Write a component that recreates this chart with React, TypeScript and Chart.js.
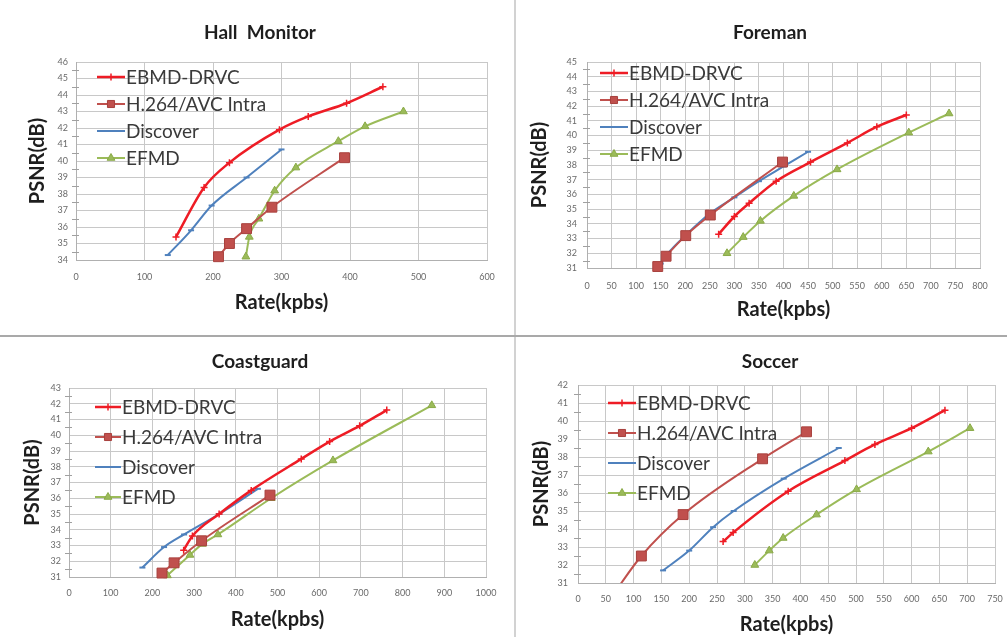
import React, { useEffect, useRef } from 'react';
import { Chart, registerables } from 'chart.js';

Chart.register(...registerables);

// ---------------- data ----------------
const SERIES_NAMES = ['EBMD-DRVC', 'H.264/AVC Intra', 'Discover', 'EFMD'];

// Hall Monitor
const hallRateEBMD = [146, 187, 224, 297, 339, 395, 448];
const hallPsnrEBMD = [35.4, 38.4, 39.9, 41.9, 42.7, 43.5, 44.5];
const hallRateH264 = [208, 224, 249, 286, 392];
const hallPsnrH264 = [34.2, 35.0, 35.9, 37.2, 40.2];
const hallRateDiscover = [134, 168, 198, 249, 300];
const hallPsnrDiscover = [34.3, 35.8, 37.3, 39.0, 40.7];
const hallRateEFMD = [248, 253, 267, 290, 321, 383, 422, 478];
const hallPsnrEFMD = [34.2, 35.4, 36.5, 38.2, 39.6, 41.2, 42.1, 43.0];

// Foreman
const foreRateEBMD = [268, 300, 330, 385, 455, 530, 590, 650];
const forePsnrEBMD = [33.3, 34.5, 35.4, 36.9, 38.2, 39.5, 40.6, 41.4];
const foreRateH264 = [144, 161, 201, 251, 398];
const forePsnrH264 = [31.1, 31.8, 33.2, 34.6, 38.2];
const foreRateDiscover = [150, 165, 200, 250, 300, 350, 400, 450];
const forePsnrDiscover = [31.3, 32.0, 33.2, 34.7, 35.8, 36.9, 37.9, 38.9];
const foreRateEFMD = [285, 318, 353, 421, 509, 655, 737];
const forePsnrEFMD = [32.0, 33.1, 34.2, 35.9, 37.7, 40.2, 41.5];

// Coastguard
const coastRateEBMD = [275, 296, 360, 437, 557, 625, 697, 762];
const coastPsnrEBMD = [32.7, 33.6, 35.0, 36.5, 38.5, 39.6, 40.6, 41.6];
const coastRateH264 = [223, 252, 318, 482];
const coastPsnrH264 = [31.25, 31.9, 33.3, 36.2];
const coastRateDiscover = [176, 228, 276, 360, 453];
const coastPsnrDiscover = [31.6, 32.9, 33.7, 35.0, 36.6];
const coastRateEFMD = [236, 290, 320, 357, 485, 633, 870];
const coastPsnrEFMD = [31.1, 32.4, 33.1, 33.7, 36.0, 38.4, 41.9];

// Soccer
const socRateEBMD = [261, 279, 378, 480, 534, 600, 660];
const socPsnrEBMD = [33.3, 33.8, 36.1, 37.8, 38.7, 39.6, 40.6];
const socRateH264 = [64, 114, 189, 332, 411];
const socPsnrH264 = [30.4, 32.5, 34.8, 37.9, 39.4];
const socRateDiscover = [153, 200, 243, 280, 370, 469];
const socPsnrDiscover = [31.7, 32.8, 34.1, 35.0, 36.8, 38.5];
const socRateEFMD = [318, 344, 369, 429, 501, 630, 705];
const socPsnrEFMD = [32.0, 32.8, 33.5, 34.8, 36.2, 38.3, 39.6];

// ---------------- styles ----------------
const SERIES_STYLE = [
  { color: '#ee1c25', point: 'cross', radius: 3.5, width: 2.5, fill: '#ee1c25', border: '#ee1c25', pbw: 1.5 },
  { color: '#c0504d', point: 'rect', radius: 7, width: 2, fill: '#c0504d', border: '#a8403d', pbw: 1 },
  { color: '#4f81bd', point: 'line', radius: 3, width: 2, fill: '#4f81bd', border: '#4f81bd', pbw: 2 },
  { color: '#9bbb59', point: 'triangle', radius: 4.5, width: 2, fill: '#9bbb59', border: '#8aaa48', pbw: 1 },
];

const FONT = 'Lato';

type Spec = {
  title: string;
  left: number; top: number; width: number; height: number;
  xMin: number; xMax: number; xStep: number; yMin: number; yMax: number;
  rates: number[][]; psnrs: number[][];
  yAxisW: number; xAxisH: number; padRight: number;
  titlePad: [number, number];
  xTickPad: number; yTickPad: number; xTitlePad: number; yTitlePad: number;
  leg: { dx: number; dy: number; gap: number; len: number };
};

const SPECS: Spec[] = [
  {
    title: 'Hall  Monitor', left: 0, top: 0, width: 520, height: 336,
    xMin: 0, xMax: 600, xStep: 100, yMin: 34, yMax: 46,
    rates: [hallRateEBMD, hallRateH264, hallRateDiscover, hallRateEFMD],
    psnrs: [hallPsnrEBMD, hallPsnrH264, hallPsnrDiscover, hallPsnrEFMD],
    yAxisW: 76, xAxisH: 76, padRight: 33, titlePad: [21.6, 17.6],
    xTickPad: 11.6, yTickPad: 8, xTitlePad: 21, yTitlePad: 26,
    leg: { dx: 21, dy: 15, gap: 27, len: 28 },
  },
  {
    title: 'Foreman', left: 525, top: 0, width: 490, height: 336,
    xMin: 0, xMax: 800, xStep: 50, yMin: 31, yMax: 45,
    rates: [foreRateEBMD, foreRateH264, foreRateDiscover, foreRateEFMD],
    psnrs: [forePsnrEBMD, forePsnrH264, forePsnrDiscover, forePsnrEFMD],
    yAxisW: 62, xAxisH: 68, padRight: 35, titlePad: [21.6, 17.6],
    xTickPad: 12.6, yTickPad: 10, xTitlePad: 14, yTitlePad: 3,
    leg: { dx: 13, dy: 11, gap: 27, len: 28 },
  },
  {
    title: 'Coastguard', left: 0, top: 336, width: 520, height: 301,
    xMin: 0, xMax: 1000, xStep: 100, yMin: 31, yMax: 43,
    rates: [coastRateEBMD, coastRateH264, coastRateDiscover, coastRateEFMD],
    psnrs: [coastPsnrEBMD, coastPsnrH264, coastPsnrDiscover, coastPsnrEFMD],
    yAxisW: 69, xAxisH: 60, padRight: 34, titlePad: [14.6, 14.6],
    xTickPad: 10.6, yTickPad: 8, xTitlePad: 5, yTitlePad: 21,
    leg: { dx: 26, dy: 19, gap: 30, len: 26 },
  },
  {
    title: 'Soccer', left: 525, top: 336, width: 490, height: 301,
    xMin: 0, xMax: 750, xStep: 50, yMin: 31, yMax: 42,
    rates: [socRateEBMD, socRateH264, socRateDiscover, socRateEFMD],
    psnrs: [socPsnrEBMD, socPsnrH264, socPsnrDiscover, socPsnrEFMD],
    yAxisW: 53, xAxisH: 54, padRight: 20, titlePad: [14.6, 11.6],
    xTickPad: 10.6, yTickPad: 10, xTitlePad: 0, yTitlePad: 5,
    leg: { dx: 30, dy: 18, gap: 30, len: 28 },
  },
];

// ---------------- plugins ----------------
function drawMarker(ctx: CanvasRenderingContext2D, style: string, x: number, y: number, r: number, fill: string, border: string, bw: number) {
  ctx.save();
  ctx.fillStyle = fill;
  ctx.strokeStyle = border;
  ctx.lineWidth = bw;
  ctx.beginPath();
  if (style === 'rect') {
    const s = Math.SQRT1_2 * r;
    ctx.rect(x - s, y - s, 2 * s, 2 * s);
    ctx.fill();
    ctx.stroke();
  } else if (style === 'triangle') {
    ctx.moveTo(x, y - r);
    ctx.lineTo(x + r * Math.sin(2 * Math.PI / 3), y - r * Math.cos(2 * Math.PI / 3));
    ctx.lineTo(x + r * Math.sin(4 * Math.PI / 3), y - r * Math.cos(4 * Math.PI / 3));
    ctx.closePath();
    ctx.fill();
    ctx.stroke();
  } else if (style === 'cross') {
    ctx.moveTo(x, y - r); ctx.lineTo(x, y + r);
    ctx.moveTo(x - r, y); ctx.lineTo(x + r, y);
    ctx.stroke();
  } else {
    ctx.moveTo(x - r, y); ctx.lineTo(x + r, y);
    ctx.stroke();
  }
  ctx.restore();
}

const insideLegend = {
  id: 'insideLegend',
  afterDatasetsDraw(chart: any, _args: any, opts: any) {
    const { ctx, chartArea } = chart;
    ctx.save();
    ctx.font = `19px ${FONT}`;
    ctx.textBaseline = 'middle';
    ctx.textAlign = 'left';
    chart.data.datasets.forEach((d: any, i: number) => {
      const st = SERIES_STYLE[i];
      const y = chartArea.top + opts.dy + i * opts.gap;
      const x0 = chartArea.left + opts.dx;
      const x1 = x0 + opts.len;
      ctx.strokeStyle = st.color;
      ctx.lineWidth = st.width;
      ctx.beginPath();
      ctx.moveTo(x0, y);
      ctx.lineTo(x1, y);
      ctx.stroke();
      drawMarker(ctx, st.point, (x0 + x1) / 2, y, Math.min(st.radius, 5), st.fill, st.border, st.pbw);
      ctx.fillStyle = '#3a3a3a';
      ctx.fillText(d.label, x1 + 1, y + 1);
    });
    ctx.restore();
  },
};

const minorTicks = {
  id: 'minorTicks',
  afterDraw(chart: any) {
    const { ctx, chartArea, scales } = chart;
    const y = scales.y;
    ctx.save();
    ctx.strokeStyle = '#a0a0a0';
    ctx.lineWidth = 1;
    ctx.beginPath();
    for (let v = y.min + 0.5; v < y.max; v += 1) {
      const py = Math.round(y.getPixelForValue(v)) + 0.5;
      ctx.moveTo(chartArea.left - 4, py);
      ctx.lineTo(chartArea.left + 3, py);
    }
    ctx.stroke();
    ctx.restore();
  },
};

function buildConfig(s: Spec): any {
  const datasets = SERIES_NAMES.map((name, i) => {
    const st = SERIES_STYLE[i];
    return {
      label: name,
      data: s.rates[i].map((x, j) => ({ x, y: s.psnrs[i][j] })),
      borderColor: st.color,
      backgroundColor: st.color,
      borderWidth: st.width,
      pointStyle: st.point,
      pointRadius: st.radius,
      pointBackgroundColor: st.fill,
      pointBorderColor: st.border,
      pointBorderWidth: st.pbw,
      cubicInterpolationMode: 'monotone',
      fill: false,
      clip: s.rates[i][0] < s.xMin || s.psnrs[i][0] < s.yMin ? 0 : 6,
    };
  });
  return {
    type: 'line',
    data: { datasets },
    options: {
      animation: false,
      responsive: false,
      maintainAspectRatio: false,
      events: [],
      layout: { padding: 0 },
      plugins: {
        legend: { display: false },
        tooltip: { enabled: false },
        title: {
          display: true,
          text: s.title,
          color: '#1e1e1e',
          font: { family: FONT, size: 19, weight: 'bold' },
          padding: { top: s.titlePad[0], bottom: s.titlePad[1] },
        },
        insideLegend: s.leg,
      },
      scales: {
        x: {
          type: 'linear',
          min: s.xMin,
          max: s.xMax,
          ticks: {
            stepSize: s.xStep,
            autoSkip: false,
            maxRotation: 0,
            color: '#6a6a6a',
            font: { family: FONT, size: 9 },
            padding: s.xTickPad,
            callback: (v: number) => String(v),
          },
          grid: { color: '#c8c8c8', drawTicks: false },
          border: { color: '#b0b0b0' },
          title: {
            display: true,
            text: 'Rate(kpbs)',
            color: '#1e1e1e',
            font: { family: FONT, size: 20, weight: 'bold' },
            padding: { top: 0, bottom: s.xTitlePad },
          },
          afterFit: (sc: any) => {
            sc.height = s.xAxisH;
            sc.paddingLeft = 0;
            sc.paddingRight = s.padRight;
            sc.paddingTop = 0;
            sc.paddingBottom = 0;
          },
        },
        y: {
          type: 'linear',
          min: s.yMin,
          max: s.yMax,
          ticks: {
            stepSize: 1,
            autoSkip: false,
            color: '#6a6a6a',
            font: { family: FONT, size: 9 },
            padding: s.yTickPad,
            callback: (v: number) => String(v),
          },
          grid: { color: '#c8c8c8', drawTicks: false },
          border: { color: '#b0b0b0' },
          title: {
            display: true,
            text: 'PSNR(dB)',
            color: '#1e1e1e',
            font: { family: FONT, size: 20, weight: 'bold' },
            padding: { top: s.yTitlePad, bottom: 0 },
          },
          afterFit: (sc: any) => {
            sc.width = s.yAxisW;
            sc.paddingLeft = 0;
            sc.paddingRight = 0;
            sc.paddingTop = 0;
            sc.paddingBottom = 0;
          },
        },
      },
    },
    plugins: [insideLegend, minorTicks],
  };
}

export default function App() {
  const refs = useRef<(HTMLCanvasElement | null)[]>([]);

  useEffect(() => {
    const charts = SPECS.map((s, i) => new Chart(refs.current[i] as HTMLCanvasElement, buildConfig(s)));
    return () => charts.forEach((c) => c.destroy());
  }, []);

  return (
    <div
      style={{
        position: 'absolute',
        left: 0,
        top: 0,
        width: 1007,
        height: 637,
        overflow: 'hidden',
        background: '#ffffff',
      }}
    >
      <div style={{ position: 'absolute', left: 514, top: 0, width: 2, height: 637, background: '#d2d2d2' }} />
      <div style={{ position: 'absolute', left: 0, top: 335, width: 1007, height: 2, background: '#a9a9a9' }} />
      {SPECS.map((s, i) => (
        <canvas
          key={s.title}
          ref={(el) => { refs.current[i] = el; }}
          width={s.width}
          height={s.height}
          style={{ position: 'absolute', left: s.left, top: s.top, width: s.width, height: s.height }}
        />
      ))}
    </div>
  );
}
